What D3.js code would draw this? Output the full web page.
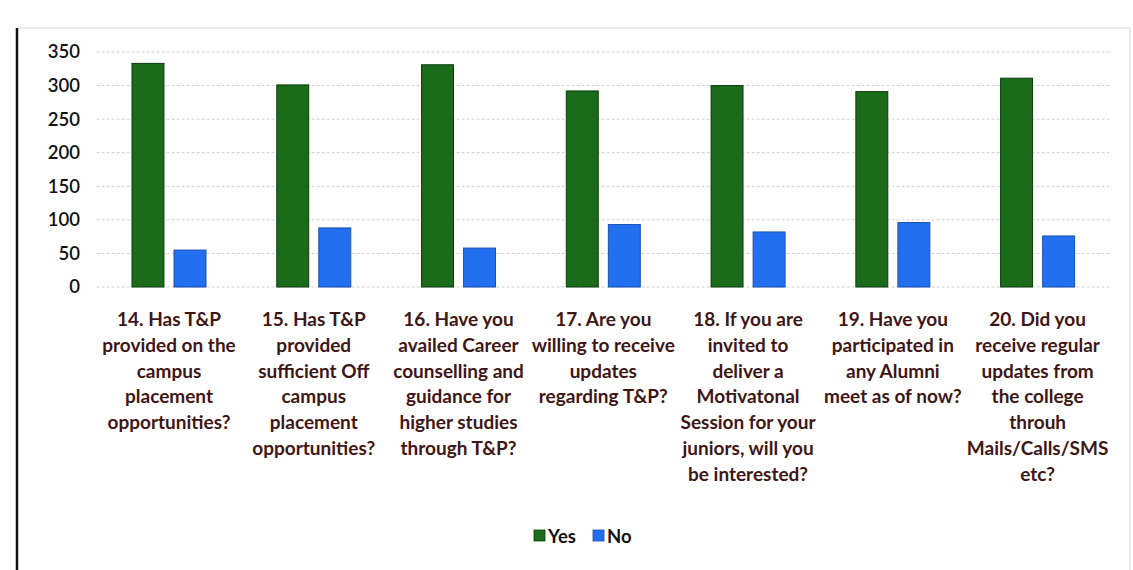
<!DOCTYPE html>
<html>
<head>
<meta charset="utf-8">
<script src="https://cdn.jsdelivr.net/npm/d3@7"></script>
<style>
  html, body { margin: 0; padding: 0; background: #fff; }
  svg { display: block; }
</style>
</head>
<body>
<div id="chart"></div>
<script>
// ---- data ----
const categories = ["14", "15", "16", "17", "18", "19", "20"];
const categoryLabels = [
  ["14. Has T&P", "provided on the", "campus", "placement", "opportunities?"],
  ["15. Has T&P", "provided", "sufficient Off", "campus", "placement", "opportunities?"],
  ["16. Have you", "availed Career", "counselling and", "guidance for", "higher studies", "through T&P?"],
  ["17. Are you", "willing to receive", "updates", "regarding T&P?"],
  ["18. If  you are", "invited to", "deliver a", "Motivatonal", "Session for your", "juniors, will you", "be interested?"],
  ["19. Have you", "participated in", "any Alumni", "meet as of now?"],
  ["20. Did you", "receive regular", "updates from", "the college", "throuh", "Mails/Calls/SMS", "etc?"]
];
const seriesNames = ["Yes", "No"];
const yesValues = [333, 301, 331, 292, 300, 291, 311];
const noValues = [55, 88, 58, 93, 82, 96, 76];
const yTicks = [0, 50, 100, 150, 200, 250, 300, 350];

// ---- layout ----
const W = 1133, H = 570;
const colors = { Yes: "#1a6b1a", No: "#2270ef" };
const strokes = { Yes: "#0c3d0c", No: "#1b4fb0" };

const svg = d3.select("#chart").append("svg")
  .attr("width", W).attr("height", H);

// frame
svg.append("rect").attr("x", 17).attr("y", 28).attr("width", W - 20).attr("height", H - 26)
  .attr("fill", "none").attr("stroke", "#d8d8d8").attr("stroke-width", 1);
svg.append("line").attr("x1", 17).attr("x2", 17).attr("y1", 28).attr("y2", H)
  .attr("stroke", "#111").attr("stroke-width", 2.5);

const plotLeft = 96.6, plotRight = 1110;
const x = d3.scaleBand().domain(categories).range([plotLeft, plotRight]).padding(0);
const x1 = d3.scaleBand().domain(seriesNames).range([0, 74]).paddingInner(0.24);
const y = d3.scaleLinear().domain([0, 350]).range([287, 52]);

// gridlines
svg.append("g").selectAll("line").data(yTicks).join("line")
  .attr("x1", plotLeft).attr("x2", plotRight)
  .attr("y1", d => y(d)).attr("y2", d => y(d))
  .attr("stroke", "#cfcfcf").attr("stroke-width", 1)
  .attr("stroke-dasharray", "3,2");

// y axis
const yAxis = d3.axisLeft(y).tickValues(yTicks).tickSize(0).tickPadding(0);
const gy = svg.append("g").attr("transform", "translate(80,0)").call(yAxis);
gy.select(".domain").remove();
gy.selectAll("text")
  .attr("font-family", "Lato, 'Open Sans', sans-serif")
  .attr("font-size", 18.5).attr("font-weight", 600).attr("fill", "#111");

// bars
const groups = svg.append("g").selectAll("g").data(categories).join("g")
  .attr("transform", d => `translate(${x(d) + x.bandwidth() / 2 - 37},0)`);

groups.selectAll("rect")
  .data((d, i) => [
    { key: "Yes", value: yesValues[i] },
    { key: "No", value: noValues[i] }
  ])
  .join("rect")
  .attr("x", d => x1(d.key))
  .attr("width", x1.bandwidth())
  .attr("y", d => y(d.value))
  .attr("height", d => y(0) - y(d.value))
  .attr("fill", d => colors[d.key])
  .attr("stroke", d => strokes[d.key])
  .attr("stroke-width", 1);

// category labels
const labelG = svg.append("g")
  .attr("font-family", "Lato, 'Open Sans', sans-serif")
  .attr("font-size", 19).attr("font-weight", 700).attr("fill", "#3e1616")
  .attr("text-anchor", "middle");

categories.forEach((c, i) => {
  const t = labelG.append("text")
    .attr("x", x(c) + x.bandwidth() / 2)
    .attr("y", 326);
  t.selectAll("tspan").data(categoryLabels[i]).join("tspan")
    .attr("x", x(c) + x.bandwidth() / 2)
    .attr("dy", (d, j) => j === 0 ? 0 : 25.8)
    .text(d => d);
});

// legend
const legend = svg.append("g")
  .attr("font-family", "Lato, 'Open Sans', sans-serif")
  .attr("font-size", 18.5).attr("font-weight", 700).attr("fill", "#111");
const legendItems = [
  { key: "Yes", x: 534 },
  { key: "No", x: 593 }
];
legendItems.forEach(it => {
  legend.append("rect").attr("x", it.x).attr("y", 530).attr("width", 11).attr("height", 11)
    .attr("fill", colors[it.key]).attr("stroke", strokes[it.key]).attr("stroke-width", 0.8);
  legend.append("text").attr("x", it.x + 14).attr("y", 542.5).text(it.key);
});
</script>
</body>
</html>
